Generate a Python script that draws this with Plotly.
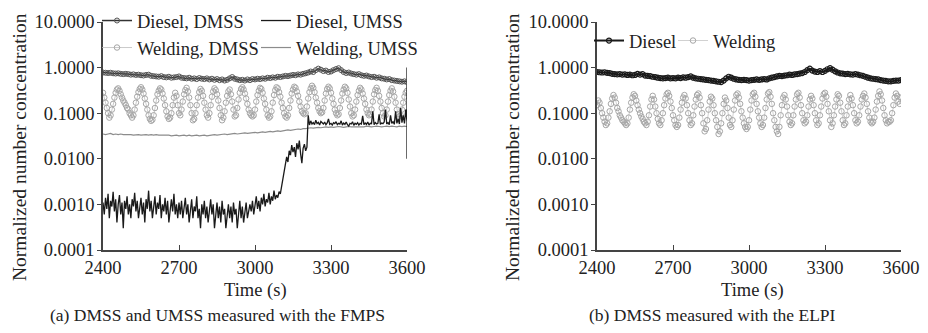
import plotly.graph_objects as go

# ---------------- data ----------------
time_10s = list(range(2400, 3601, 10))
time_5s = list(range(2400, 3601, 5))
ytick_vals = [0.0001, 0.001, 0.01, 0.1, 1, 10]
ytick_text = ["0.0001", "0.0010", "0.0100", "0.1000", "1.0000", "10.0000"]
xtick_vals = [2400, 2700, 3000, 3300, 3600]

# (a) FMPS  (10 s grid)
diesel_dmss_a = [
    0.78, 0.77, 0.76, 0.77, 0.75, 0.74, 0.75, 0.73, 0.72, 0.73,
    0.72, 0.70, 0.71, 0.69, 0.70, 0.68, 0.67, 0.69, 0.70, 0.66,
    0.65, 0.64, 0.63, 0.65, 0.62, 0.61, 0.63, 0.60, 0.61, 0.62,
    0.64, 0.60, 0.59, 0.58, 0.60, 0.57, 0.58, 0.56, 0.59, 0.57,
    0.56, 0.58, 0.55, 0.57, 0.54, 0.56, 0.53, 0.55, 0.52, 0.54,
    0.58, 0.62, 0.57, 0.55, 0.53, 0.54, 0.52, 0.55, 0.53, 0.56,
    0.55, 0.57, 0.56, 0.58, 0.57, 0.60, 0.59, 0.61, 0.60, 0.63,
    0.62, 0.64, 0.66, 0.65, 0.67, 0.69, 0.68, 0.71, 0.70, 0.73,
    0.75, 0.78, 0.82, 0.80, 0.88, 0.95, 0.90, 0.84, 0.86, 0.80,
    0.82, 0.88, 0.93, 0.97, 0.88, 0.80, 0.76, 0.78, 0.74, 0.72,
    0.70, 0.72, 0.68, 0.66, 0.67, 0.64, 0.62, 0.63, 0.60, 0.61,
    0.58, 0.57, 0.55, 0.56, 0.53, 0.52, 0.51, 0.50, 0.49, 0.50,
    0.48]

# (a) FMPS  (5 s grid)
welding_dmss_a = [
    0.28, 0.22, 0.17, 0.13, 0.10, 0.08, 0.09, 0.12, 0.16, 0.22,
    0.28, 0.33, 0.35, 0.31, 0.26, 0.22, 0.19, 0.17, 0.15, 0.13,
    0.12, 0.10, 0.09, 0.08, 0.09, 0.12, 0.17, 0.23, 0.29, 0.34,
    0.37, 0.33, 0.27, 0.21, 0.16, 0.12, 0.09, 0.075, 0.068, 0.072,
    0.09, 0.13, 0.19, 0.26, 0.31, 0.35, 0.33, 0.27, 0.21, 0.15,
    0.11, 0.085, 0.075, 0.08, 0.10, 0.15, 0.22, 0.28, 0.24, 0.15,
    0.10, 0.09, 0.12, 0.18, 0.26, 0.32, 0.36, 0.30, 0.22, 0.15,
    0.10, 0.07, 0.075, 0.10, 0.15, 0.22, 0.29, 0.34, 0.31, 0.24,
    0.17, 0.12, 0.09, 0.08, 0.10, 0.15, 0.23, 0.30, 0.35, 0.32,
    0.26, 0.19, 0.13, 0.09, 0.07, 0.08, 0.11, 0.17, 0.24, 0.30,
    0.33, 0.26, 0.18, 0.12, 0.085, 0.09, 0.13, 0.20, 0.28, 0.34,
    0.37, 0.33, 0.27, 0.21, 0.16, 0.12, 0.10, 0.09, 0.085, 0.09,
    0.12, 0.18, 0.25, 0.31, 0.36, 0.34, 0.28, 0.21, 0.16, 0.12,
    0.09, 0.08, 0.085, 0.11, 0.17, 0.25, 0.32, 0.37, 0.35, 0.29,
    0.23, 0.17, 0.13, 0.10, 0.085, 0.08, 0.09, 0.13, 0.19, 0.27,
    0.33, 0.38, 0.36, 0.30, 0.24, 0.18, 0.14, 0.11, 0.10, 0.095,
    0.10, 0.14, 0.21, 0.29, 0.35, 0.40, 0.36, 0.29, 0.22, 0.17,
    0.13, 0.11, 0.10, 0.105, 0.13, 0.19, 0.27, 0.34, 0.38, 0.35,
    0.28, 0.21, 0.16, 0.12, 0.10, 0.09, 0.095, 0.13, 0.19, 0.27,
    0.33, 0.38, 0.35, 0.28, 0.20, 0.14, 0.10, 0.085, 0.09, 0.12,
    0.18, 0.25, 0.31, 0.36, 0.33, 0.27, 0.21, 0.16, 0.12, 0.10,
    0.09, 0.095, 0.12, 0.18, 0.26, 0.32, 0.36, 0.31, 0.24, 0.18,
    0.13, 0.10, 0.085, 0.09, 0.12, 0.18, 0.25, 0.31, 0.35, 0.30,
    0.23, 0.17, 0.12, 0.095, 0.085, 0.09, 0.12, 0.17, 0.23, 0.28,
    0.31]

diesel_umss_a = [
    # 2400-2700
    0.0011, 0.0006, 0.0014, 0.0008, 0.0017, 0.0005, 0.0012, 0.0009, 0.0019, 0.0007,
    0.0013, 0.0004, 0.0010, 0.0016, 0.0006, 0.0011, 0.0003, 0.0012, 0.0008, 0.0015,
    0.0006, 0.0010, 0.0005, 0.0013, 0.0009, 0.0018, 0.0007, 0.0012, 0.0005, 0.0010,
    0.0014, 0.0006, 0.0011, 0.0004, 0.0013, 0.0008, 0.0020, 0.0007, 0.0012, 0.0005,
    0.0009, 0.0015, 0.0006, 0.0011, 0.0008, 0.0016, 0.0005, 0.0010, 0.0007, 0.0014,
    0.0006, 0.0012, 0.0004, 0.0009, 0.0013, 0.0007, 0.0017, 0.0006, 0.0010, 0.0005,
    0.0011,
    # 2705-2980
    0.0006, 0.0012, 0.0005, 0.0009, 0.0014, 0.0006, 0.0010, 0.0004, 0.0008, 0.0013,
    0.0005, 0.0009, 0.0007, 0.0015, 0.0005, 0.0008, 0.0003, 0.0010, 0.0006, 0.0012,
    0.0005, 0.0009, 0.0004, 0.0008, 0.0013, 0.0006, 0.0010, 0.0003, 0.0007, 0.0011,
    0.0005, 0.0009, 0.0004, 0.0012, 0.0006, 0.0008, 0.0003, 0.0007, 0.0010, 0.0005,
    0.0009, 0.0004, 0.0011, 0.0006, 0.0008, 0.0003, 0.0007, 0.0012, 0.0005, 0.0009,
    0.0004, 0.0007, 0.0011, 0.0005, 0.0008, 0.0010,
    # 2985-3100
    0.0007, 0.0012, 0.0006, 0.0010, 0.0015, 0.0008, 0.0012, 0.0007, 0.0014, 0.0010,
    0.0017, 0.0009, 0.0013, 0.0011, 0.0018, 0.0010, 0.0015, 0.0012, 0.0020, 0.0013,
    0.0016, 0.0014, 0.0019, 0.0017,
    # 3105-3205
    0.0024, 0.0035, 0.0050, 0.0075, 0.0110, 0.0085, 0.0150, 0.0120, 0.0200, 0.0140,
    0.0180, 0.0110, 0.0220, 0.0160, 0.0250, 0.0130, 0.0080, 0.0170, 0.0210, 0.0150,
    0.0180,
    # 3210-3600
    0.0900, 0.0550, 0.0680, 0.0580, 0.0620, 0.0560, 0.0700, 0.0590, 0.0630, 0.0550,
    0.0660, 0.0600, 0.0580, 0.0640, 0.0560, 0.0610, 0.0750, 0.0570, 0.0600, 0.0550,
    0.0620, 0.0590, 0.0650, 0.0560, 0.0600, 0.0580, 0.0680, 0.0550, 0.0610, 0.0570,
    0.0640, 0.0560, 0.0520, 0.0600, 0.0580, 0.0650, 0.0540, 0.0600, 0.0570, 0.0620,
    0.0550, 0.0600, 0.0580, 0.0880, 0.0560, 0.0610, 0.0570, 0.0640, 0.0550, 0.0600,
    0.0590, 0.1100, 0.0560, 0.0620, 0.0580, 0.0600, 0.0950, 0.0570, 0.0610, 0.0590,
    0.0640, 0.1200, 0.0580, 0.0620, 0.0560, 0.0900, 0.0600, 0.0650, 0.0570, 0.1100,
    0.0600, 0.0750, 0.0580, 0.1300, 0.0620, 0.0900, 0.0600, 0.1200, 0.0650]
diesel_umss_end_time = [3600, 3600]
diesel_umss_end = [1.0, 0.01]

welding_umss_a = [
    0.035, 0.034, 0.035, 0.036, 0.034, 0.035, 0.034, 0.035, 0.034, 0.034,
    0.035, 0.034, 0.033, 0.034, 0.034, 0.033, 0.034, 0.034, 0.033, 0.034,
    0.033, 0.034, 0.033, 0.033, 0.034, 0.033, 0.033, 0.032, 0.033, 0.033,
    0.032, 0.033, 0.033, 0.032, 0.033, 0.032, 0.033, 0.033, 0.032, 0.033,
    0.033, 0.032, 0.033, 0.033, 0.034, 0.033, 0.034, 0.034, 0.035, 0.034,
    0.035, 0.035, 0.036, 0.035, 0.036, 0.036, 0.037, 0.036, 0.037, 0.037,
    0.038, 0.037, 0.038, 0.039, 0.038, 0.039, 0.040, 0.039, 0.040, 0.041,
    0.040, 0.041, 0.042, 0.043, 0.042, 0.043, 0.044, 0.045, 0.044, 0.046,
    0.046, 0.047, 0.048, 0.047, 0.048, 0.049, 0.048, 0.049, 0.050, 0.049,
    0.050, 0.049, 0.050, 0.051, 0.050, 0.049, 0.050, 0.051, 0.050, 0.050,
    0.051, 0.050, 0.051, 0.050, 0.052, 0.051, 0.050, 0.051, 0.052, 0.051,
    0.050, 0.051, 0.052, 0.051, 0.052, 0.051, 0.050, 0.052, 0.051, 0.052,
    0.051]

# (b) ELPI  (10 s grid)
diesel_b = [
    0.80, 0.79, 0.78, 0.79, 0.77, 0.76, 0.73, 0.72, 0.71, 0.72,
    0.70, 0.71, 0.69, 0.70, 0.68, 0.69, 0.73, 0.70, 0.72, 0.67,
    0.66, 0.65, 0.63, 0.62, 0.60, 0.59, 0.58, 0.59, 0.60, 0.58,
    0.59, 0.58, 0.60, 0.59, 0.61, 0.60, 0.62, 0.64, 0.60, 0.58,
    0.57, 0.56, 0.55, 0.54, 0.53, 0.52, 0.51, 0.50, 0.49, 0.48,
    0.52, 0.58, 0.63, 0.60, 0.57, 0.55, 0.54, 0.53, 0.54, 0.53,
    0.52, 0.53, 0.54, 0.55, 0.54, 0.55, 0.56, 0.55, 0.58, 0.60,
    0.62, 0.64, 0.66, 0.65, 0.67, 0.68, 0.70, 0.69, 0.71, 0.72,
    0.74, 0.76, 0.80, 0.88, 0.95, 0.86, 0.82, 0.80, 0.84, 0.80,
    0.85, 0.92, 0.97, 0.90, 0.83, 0.78, 0.75, 0.74, 0.72, 0.73,
    0.71, 0.70, 0.72, 0.70, 0.68, 0.66, 0.63, 0.60, 0.58, 0.57,
    0.56, 0.55, 0.53, 0.52, 0.51, 0.50, 0.50, 0.51, 0.52, 0.52,
    0.53]

# (b) ELPI  (5 s grid)
welding_b = [
    0.15, 0.19, 0.17, 0.13, 0.10, 0.08, 0.065, 0.055, 0.06, 0.08,
    0.11, 0.16, 0.21, 0.25, 0.22, 0.17, 0.13, 0.11, 0.09, 0.08,
    0.07, 0.065, 0.06, 0.055, 0.06, 0.08, 0.12, 0.17, 0.22, 0.26,
    0.24, 0.19, 0.15, 0.12, 0.10, 0.085, 0.075, 0.065, 0.06, 0.055,
    0.065, 0.09, 0.14, 0.20, 0.24, 0.20, 0.14, 0.10, 0.075, 0.06,
    0.055, 0.07, 0.10, 0.15, 0.21, 0.26, 0.28, 0.24, 0.18, 0.13,
    0.09, 0.07, 0.055, 0.05, 0.055, 0.08, 0.12, 0.17, 0.22, 0.25,
    0.21, 0.15, 0.10, 0.07, 0.055, 0.06, 0.09, 0.14, 0.20, 0.25,
    0.27, 0.22, 0.15, 0.10, 0.06, 0.04, 0.045, 0.07, 0.12, 0.18,
    0.23, 0.21, 0.15, 0.10, 0.07, 0.05, 0.035, 0.04, 0.06, 0.10,
    0.16, 0.22, 0.19, 0.13, 0.08, 0.055, 0.05, 0.07, 0.12, 0.19,
    0.25, 0.27, 0.22, 0.16, 0.11, 0.08, 0.06, 0.05, 0.045, 0.05,
    0.07, 0.12, 0.19, 0.26, 0.28, 0.23, 0.16, 0.11, 0.08, 0.06,
    0.05, 0.055, 0.08, 0.13, 0.20, 0.27, 0.29, 0.23, 0.16, 0.10,
    0.07, 0.05, 0.04, 0.035, 0.05, 0.09, 0.15, 0.22, 0.25, 0.20,
    0.14, 0.09, 0.065, 0.055, 0.06, 0.09, 0.14, 0.20, 0.26, 0.28,
    0.22, 0.15, 0.10, 0.07, 0.06, 0.065, 0.09, 0.14, 0.20, 0.24,
    0.21, 0.15, 0.10, 0.07, 0.055, 0.06, 0.09, 0.14, 0.21, 0.26,
    0.28, 0.23, 0.16, 0.11, 0.07, 0.05, 0.06, 0.09, 0.14, 0.20,
    0.26, 0.24, 0.17, 0.11, 0.07, 0.055, 0.06, 0.09, 0.14, 0.20,
    0.25, 0.21, 0.15, 0.10, 0.07, 0.06, 0.065, 0.09, 0.14, 0.20,
    0.24, 0.27, 0.22, 0.16, 0.11, 0.08, 0.065, 0.06, 0.065, 0.08,
    0.12, 0.18, 0.24, 0.30, 0.26, 0.19, 0.13, 0.09, 0.07, 0.06,
    0.065, 0.065, 0.07, 0.10, 0.15, 0.22, 0.27, 0.24, 0.18, 0.16,
    0.22]

# ---------------- figure ----------------
FONT = "Liberation Serif"
TXT = "#222222"
OFF = 8                      # page body margin of the html page
PW, PH = 928 - OFF, 333 - OFF
FS = 18.5


def px(X):                   # window x pixel -> paper fraction
    return (X - OFF) / PW


def py(Y):                   # window y pixel (from top) -> paper fraction
    return 1 - (Y - OFF) / PH


fig = go.Figure()

# panel (a)
fig.add_trace(go.Scatter(
    x=time_5s, y=welding_dmss_a, mode="lines+markers", name="Welding, DMSS",
    line=dict(color="#bdbdbd", width=0.8),
    marker=dict(symbol="circle-open", size=5.5, color="#a6a6a6", line=dict(width=1)),
    xaxis="x", yaxis="y", legend="legend3"))
fig.add_trace(go.Scatter(
    x=time_10s, y=welding_umss_a, mode="lines", name="Welding, UMSS",
    line=dict(color="#8c8c8c", width=1.2),
    xaxis="x", yaxis="y", legend="legend4"))
fig.add_trace(go.Scatter(
    x=time_5s + diesel_umss_end_time, y=diesel_umss_a + diesel_umss_end,
    mode="lines", name="Diesel, UMSS",
    line=dict(color="#1a1a1a", width=1.3),
    xaxis="x", yaxis="y", legend="legend2"))
fig.add_trace(go.Scatter(
    x=time_10s, y=diesel_dmss_a, mode="lines+markers", name="Diesel, DMSS",
    line=dict(color="#333333", width=1.5),
    marker=dict(symbol="circle-open", size=5, color="#555555", line=dict(width=1)),
    xaxis="x", yaxis="y", legend="legend"))

# panel (b)
fig.add_trace(go.Scatter(
    x=time_10s, y=diesel_b, mode="lines+markers", name="Diesel",
    line=dict(color="#1a1a1a", width=2),
    marker=dict(symbol="circle-open", size=5, color="#1a1a1a", line=dict(width=1.2)),
    xaxis="x2", yaxis="y2", legend="legend5"))
fig.add_trace(go.Scatter(
    x=time_5s, y=welding_b, mode="lines+markers", name="Welding",
    line=dict(color="#c4c4c4", width=0.8),
    marker=dict(symbol="circle-open", size=5.5, color="#a6a6a6", line=dict(width=1)),
    xaxis="x2", yaxis="y2", legend="legend6"))

y_dom = [py(250), py(22)]
xa = dict(range=[2400, 3600], tickvals=xtick_vals, ticks="inside", ticklen=5,
          tickcolor="#444", showline=True, linecolor="#444", linewidth=1.5,
          showgrid=False, zeroline=False, automargin=False,
          tickfont=dict(family=FONT, size=FS, color=TXT))
ya = dict(type="log", range=[-4, 1], tickvals=ytick_vals, ticktext=ytick_text,
          ticks="outside", ticklen=4, tickcolor="#444", showline=True,
          linecolor="#444", linewidth=1.5, showgrid=False, zeroline=False,
          automargin=False, domain=y_dom, ticklabelstandoff=-1,
          tickfont=dict(family=FONT, size=FS, color=TXT))


def leg(text_left_px, center_y_px):
    return dict(orientation="h", x=px(text_left_px - 41), y=py(center_y_px),
                xanchor="left", yanchor="middle", bgcolor="rgba(0,0,0,0)",
                borderwidth=0, font=dict(family=FONT, size=FS, color=TXT))


fig.update_layout(
    width=PW, height=PH,
    margin=dict(l=0, r=0, t=0, b=0, autoexpand=False),
    paper_bgcolor="white", plot_bgcolor="white",
    font=dict(family=FONT, size=FS, color=TXT),
    xaxis=dict(xa, domain=[px(103), px(407)], anchor="y"),
    yaxis=dict(ya, anchor="x"),
    xaxis2=dict(xa, domain=[px(597), px(901)], anchor="y2"),
    yaxis2=dict(ya, anchor="x2"),
    legend=leg(138, 21),
    legend2=leg(297, 21),
    legend3=leg(138, 48),
    legend4=leg(297, 48),
    legend5=leg(630, 41),
    legend6=leg(714, 41),
    showlegend=True,
)

annos = [
    dict(text="Time (s)", x=px(255), y=py(290)),
    dict(text="Time (s)", x=px(752), y=py(290)),
    dict(text="(a) DMSS and UMSS measured with the FMPS", x=px(217), y=py(315), size=17.5),
    dict(text="(b) DMSS measured with the ELPI", x=px(712), y=py(315), size=17.5),
    dict(text="Normalized number concentration", x=px(19), y=py(147), angle=-90, size=19.5),
    dict(text="Normalized number concentration", x=px(512), y=py(147), angle=-90, size=19.5),
]
for a in annos:
    fig.add_annotation(
        text=a["text"], x=a["x"], y=a["y"], xref="paper", yref="paper",
        xanchor="center", yanchor="middle", showarrow=False,
        textangle=a.get("angle", 0),
        font=dict(family=FONT, size=a.get("size", FS), color=TXT))

fig.write_html("out.html")
